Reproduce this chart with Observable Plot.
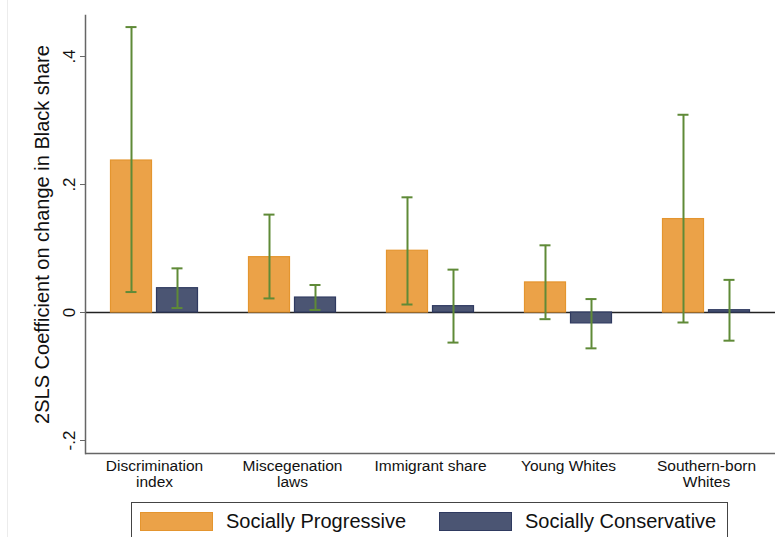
<!DOCTYPE html>
<html>
<head>
<meta charset="utf-8">
<script src="https://cdn.jsdelivr.net/npm/d3@7"></script>
<script src="https://cdn.jsdelivr.net/npm/@observablehq/plot@0.6"></script>
<style>
  html, body { margin: 0; padding: 0; background: #fff; }
  body { width: 778px; height: 537px; overflow: hidden; position: relative; font-family: "Liberation Sans", Arial, sans-serif; }
  #edge { position: absolute; left: 7px; top: 0; width: 0; height: 537px; border-left: 1px solid #ececec; }
  #chart { position: absolute; left: 0; top: 0; }
  #legend { position: absolute; left: 131px; top: 502px; width: 597px; height: 44px; border: 1px solid #444; box-sizing: border-box; }
  .item { position: absolute; top: 7px; display: flex; align-items: center; font-size: 20px; color: #111; }
  .sw { width: 73px; height: 19px; margin-right: 13px; box-sizing: border-box; }
</style>
</head>
<body>
<div id="edge"></div>
<div id="chart"></div>
<div id="legend"></div>
<script>
const categories = ["Discrimination\nindex", "Miscegenation\nlaws", "Immigrant share", "Young Whites", "Southern-born\nWhites"];
const series = ["Socially Progressive", "Socially Conservative"];
const progressive   = [0.2375, 0.0865, 0.0965, 0.047, 0.146];
const progressiveLo = [0.032, 0.022, 0.0125, -0.0104, -0.0156];
const progressiveHi = [0.446, 0.153, 0.180, 0.105, 0.309];
const conservative   = [0.038, 0.0234, 0.0099, -0.017, 0.0036];
const conservativeLo = [0.007, 0.004, -0.047, -0.056, -0.044];
const conservativeHi = [0.069, 0.043, 0.067, 0.021, 0.051];
const yTicks = [-0.2, 0, 0.2, 0.4];
const yTickLabels = ["-.2", "0", ".2", ".4"];
const yTitle = "2SLS Coefficient on change in Black share";

const fills = ["#eba248", "#4b5573"];
const strokes = ["#e4952f", "#2f3a60"];
const green = "#5f8a37";

const prog = categories.map((c, i) => ({cat: c, value: progressive[i], lo: progressiveLo[i], hi: progressiveHi[i]}));
const cons = categories.map((c, i) => ({cat: c, value: conservative[i], lo: conservativeLo[i], hi: conservativeHi[i]}));

const yDomain = [-0.2203, 0.4641];

function groupMarks(data, k) {
  const left = k === 0;
  const dx = left ? -23 : 23;
  return [
    Plot.barY(data, {x: "cat", y: "value", fill: fills[k], stroke: strokes[k], strokeWidth: 1.2,
      insetLeft: left ? 25.5 : 71.5, insetRight: left ? 71.5 : 25.5}),
    Plot.ruleX(data, {x: "cat", y1: "lo", y2: "hi", dx, stroke: green, strokeWidth: 2}),
    Plot.tickY(data, {x: "cat", y: "lo", dx, stroke: green, strokeWidth: 2, insetLeft: 63.5, insetRight: 63.5}),
    Plot.tickY(data, {x: "cat", y: "hi", dx, stroke: green, strokeWidth: 2, insetLeft: 63.5, insetRight: 63.5})
  ];
}

const chart = Plot.plot({
  width: 778,
  height: 495,
  marginLeft: 85,
  marginRight: 3,
  marginTop: 15,
  marginBottom: 42,
  style: {fontFamily: "'Liberation Sans', Arial, sans-serif", color: "#111", background: "transparent"},
  x: {domain: categories, padding: 0, axis: null},
  y: {domain: yDomain, axis: null},
  marks: [
    Plot.ruleY([0], {stroke: "#222", strokeWidth: 1.5}),
    ...groupMarks(prog, 0),
    ...groupMarks(cons, 1),
    Plot.ruleY([yDomain[0]], {stroke: "#666", strokeWidth: 1.5}),
    Plot.frame({anchor: "left", stroke: "#666", strokeWidth: 1.5}),
    Plot.axisY({ticks: yTicks, tickFormat: (d) => yTickLabels[yTicks.indexOf(d)], tickSize: 5, tickRotate: -90,
      tickPadding: 6, fontSize: 17, stroke: "#666", label: null}),
    Plot.text([yTitle], {frameAnchor: "left", rotate: -90, dx: -43, fontSize: 20, fill: "#111", textAnchor: "middle"}),
    Plot.axisX({tickSize: 0, tickPadding: 6, fontSize: 15.5, label: null, lineHeight: 1.02})
  ]
});
document.getElementById("chart").appendChild(chart);

const legend = document.getElementById("legend");
const lefts = [8, 307];
series.forEach((s, k) => {
  const item = document.createElement("div");
  item.className = "item";
  item.style.left = lefts[k] + "px";
  const sw = document.createElement("div");
  sw.className = "sw";
  sw.style.background = fills[k];
  sw.style.border = "1px solid " + strokes[k];
  const t = document.createElement("span");
  t.textContent = s;
  item.appendChild(sw);
  item.appendChild(t);
  legend.appendChild(item);
});
</script>
</body>
</html>
